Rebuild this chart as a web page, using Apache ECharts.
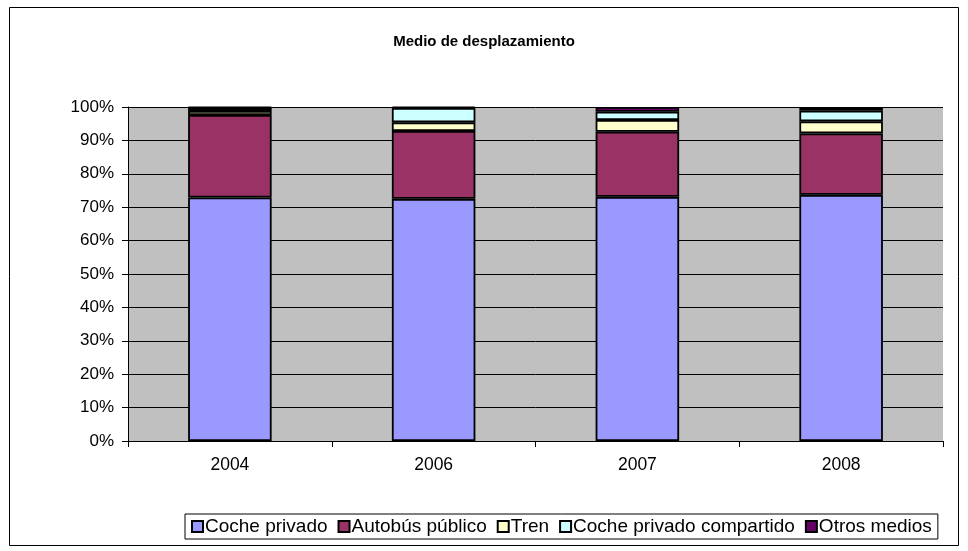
<!DOCTYPE html>
<html>
<head>
<meta charset="utf-8">
<script src="https://cdn.jsdelivr.net/npm/echarts@6/dist/echarts.min.js"></script>
<style>
html,body{margin:0;padding:0;background:#fff;}
#chart{width:968px;height:551px;}
</style>
</head>
<body>
<div id="chart"></div>
<script>
var years = ['2004', '2006', '2007', '2008'];
var cochePrivado = [72.9, 72.5, 73.1, 73.7];
var autobusPublico = [24.7, 20.3, 19.5, 18.4];
var tren = [1.2, 2.6, 3.5, 3.6];
var cocheCompartido = [1.0, 4.3, 2.5, 3.2];
var otrosMedios = [0.2, 0.3, 1.4, 1.1];
var seriesNames = ['Coche privado', 'Autobús público', 'Tren', 'Coche privado compartido', 'Otros medios'];
var seriesColors = ['#9999FF', '#993366', '#FFFFCC', '#CCFFFF', '#660066'];
var seriesData = [cochePrivado, autobusPublico, tren, cocheCompartido, otrosMedios];

var FONT = 'Liberation Sans, Arial, sans-serif';
var chart = echarts.init(document.getElementById('chart'), null, {renderer: 'canvas'});
var option = {
  animation: false,
  backgroundColor: '#fff',
  title: {
    text: 'Medio de desplazamiento',
    left: 'center',
    top: 29,
    textStyle: {fontFamily: FONT, fontSize: 15, fontWeight: 'bold', color: '#000'}
  },
  grid: {left: 128, right: 25, top: 107, bottom: 110, show: true, backgroundColor: '#C0C0C0', borderWidth: 0},
  legend: {
    data: seriesNames.map(function (n) { return {name: n, icon: 'rect'}; }),
    left: 185,
    top: 514,
    itemWidth: 11,
    itemHeight: 11,
    itemGap: 10,
    padding: [3, 6, 3, 6],
    borderColor: '#000',
    borderWidth: 1,
    textStyle: {fontFamily: FONT, fontSize: 19, color: '#000', padding: [0, 0, 0, -3]}
  },
  xAxis: {
    type: 'category',
    data: years,
    axisLine: {lineStyle: {color: '#000', width: 1}},
    axisTick: {show: true, length: 6, lineStyle: {color: '#000'}},
    axisLabel: {fontFamily: FONT, fontSize: 17.5, color: '#000', margin: 15},
    splitLine: {show: false}
  },
  yAxis: {
    type: 'value',
    min: 0,
    max: 100,
    interval: 10,
    axisLine: {show: true, lineStyle: {color: '#000', width: 1}},
    axisTick: {show: true, length: 6, lineStyle: {color: '#000'}},
    axisLabel: {fontFamily: FONT, fontSize: 17, color: '#000', margin: 14, formatter: '{value}%'},
    splitLine: {show: true, lineStyle: {color: '#000', width: 1}}
  },
  series: seriesNames.map(function (name, i) {
    return {
      name: name,
      type: 'bar',
      stack: 'total',
      barWidth: '41%',
      data: seriesData[i],
      itemStyle: {color: seriesColors[i], borderColor: '#000', borderWidth: 1.8}
    };
  }),
  graphic: [{
    type: 'rect',
    shape: {x: 9.5, y: 7.5, width: 949, height: 538},
    style: {fill: 'none', stroke: '#000', lineWidth: 1},
    silent: true,
    z: -1
  }]
};
chart.setOption(option);
</script>
</body>
</html>
